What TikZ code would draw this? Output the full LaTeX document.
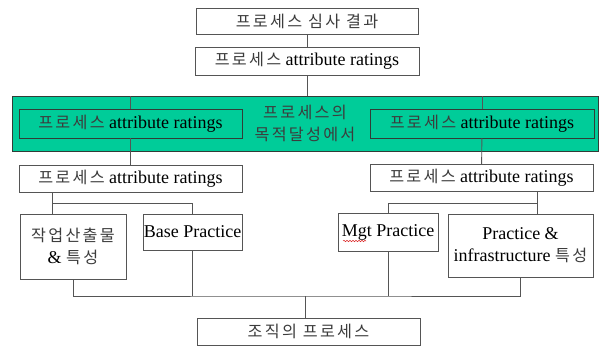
\documentclass[tikz,border=0pt]{standalone}
\usepackage{fontspec}
\setmainfont{Liberation Serif}
\newfontfamily\krfont{Noto Sans CJK KR}[Scale=0.9,LetterSpace=14]
\usepackage{tikz}
\usetikzlibrary{
  decorations.pathmorphing
}
\definecolor{procGreen}{RGB}{0,204,153}
\definecolor{procLine}{RGB}{85,85,85}
\definecolor{procDark}{RGB}{50,60,55}
\definecolor{procKr}{RGB}{60,60,60}
\definecolor{procSpell}{RGB}{220,40,40}
\newcommand{\kr}[1]{{\krfont\color{procKr}#1}}
\tikzset{
  procBox/.style={
    rectangle,
    draw=procLine,
    fill=white,
    line width=0.9pt,
    inner sep=0pt,
    align=center,
    font=\fontsize{18}{22}\selectfont
  },
  bandBox/.style={
    rectangle,
    draw=procDark,
    fill=procGreen,
    line width=0.9pt,
    inner sep=0pt
  },
  innerBox/.style={
    procBox,
    draw=procDark,
    fill=procGreen
  },
  procLink/.style={
    draw=procLine,
    line width=0.9pt
  }
}

\begin{document}
\begin{tikzpicture}[x=1pt, y=-1pt]
  \useasboundingbox (0,0) rectangle (604,347);

  % top of the tree
  \node[procBox, minimum width=222pt, minimum height=26pt] (result) at (307,21) {\kr{프로세스 심사 결과}};
  \node[procBox, minimum width=224pt, minimum height=28pt] (rating) at (307,61) {\kr{프로세스} attribute ratings};

  % green band
  \node[bandBox, minimum width=586pt, minimum height=55pt] (band) at (305,123.5) {};
  \node[innerBox, minimum width=223pt, minimum height=29pt] (ratL) at (130.5,123.5) {\kr{프로세스} attribute ratings};
  \node[innerBox, minimum width=224pt, minimum height=29pt] (ratR) at (482,123.5) {\kr{프로세스} attribute ratings};
  \node[procBox, draw=none, fill=none] (goal) at (305,123) {\kr{프로세스의}\\\kr{목적달성에서}};

  % second level
  \node[procBox, minimum width=223pt, minimum height=27pt] (subL) at (130.5,178.5) {\kr{프로세스} attribute ratings};
  \node[procBox, minimum width=223pt, minimum height=27pt] (subR) at (481.5,178) {\kr{프로세스} attribute ratings};

  % leaves
  \node[procBox, minimum width=106pt, minimum height=65pt] (work) at (73,246.5) {\kr{작업산출물}\\\& \kr{특성}};
  \node[procBox, minimum width=99pt, minimum height=36pt] (base) at (192.5,232) {Base Practice};
  \node[procBox, minimum width=100pt, minimum height=38pt] (mgt) at (388,232) {Mgt Practice};
  \node[procBox, minimum width=145pt, minimum height=63pt] (infra) at (520.5,245.5) {Practice \&\\infrastructure \kr{특성}};

  \node[procBox, minimum width=223pt, minimum height=27pt] (org) at (308.5,331.5) {\kr{조직의 프로세스}};

  \coordinate (forkL) at (52,203);
  \coordinate (forkR) at (537,203);
  \coordinate (bus) at (305,296);

  \draw[procLink] (result) -- (rating);
  \draw[procLink] (rating) -- (rating |- band.north);
  \draw[procLink] (ratL.north) -- (ratL.north |- band.north);
  \draw[procLink] (ratR.north) -- (ratR.north |- band.north);
  \draw[procLink] (ratL) -- (subL);
  \draw[procLink] (ratR) -- (subR);

  \draw[procLink] (forkL |- subL.south) -- (forkL |- work.north);
  \draw[procLink] (forkL) -| (base.north);
  \draw[procLink] (forkR |- subR.south) -- (forkR |- infra.north);
  \draw[procLink] (forkR) -| (mgt.north);

  \draw[procLink] (work.south) |- (bus) -| (infra.south);
  \draw[procLink] (base.south) -- (base.south |- bus);
  \draw[procLink] (mgt.south) -- (mgt.south |- bus);
  \draw[procLink] (bus) -- (bus |- org.north);

  % spell check mark under Mgt
  \draw[procSpell, line width=0.5pt, decorate, decoration={snake, amplitude=0.7pt, segment length=3pt}]
    ([xshift=-45pt, yshift=-9pt]mgt.center) -- ([xshift=-22pt, yshift=-9pt]mgt.center);
\end{tikzpicture}
\end{document}
